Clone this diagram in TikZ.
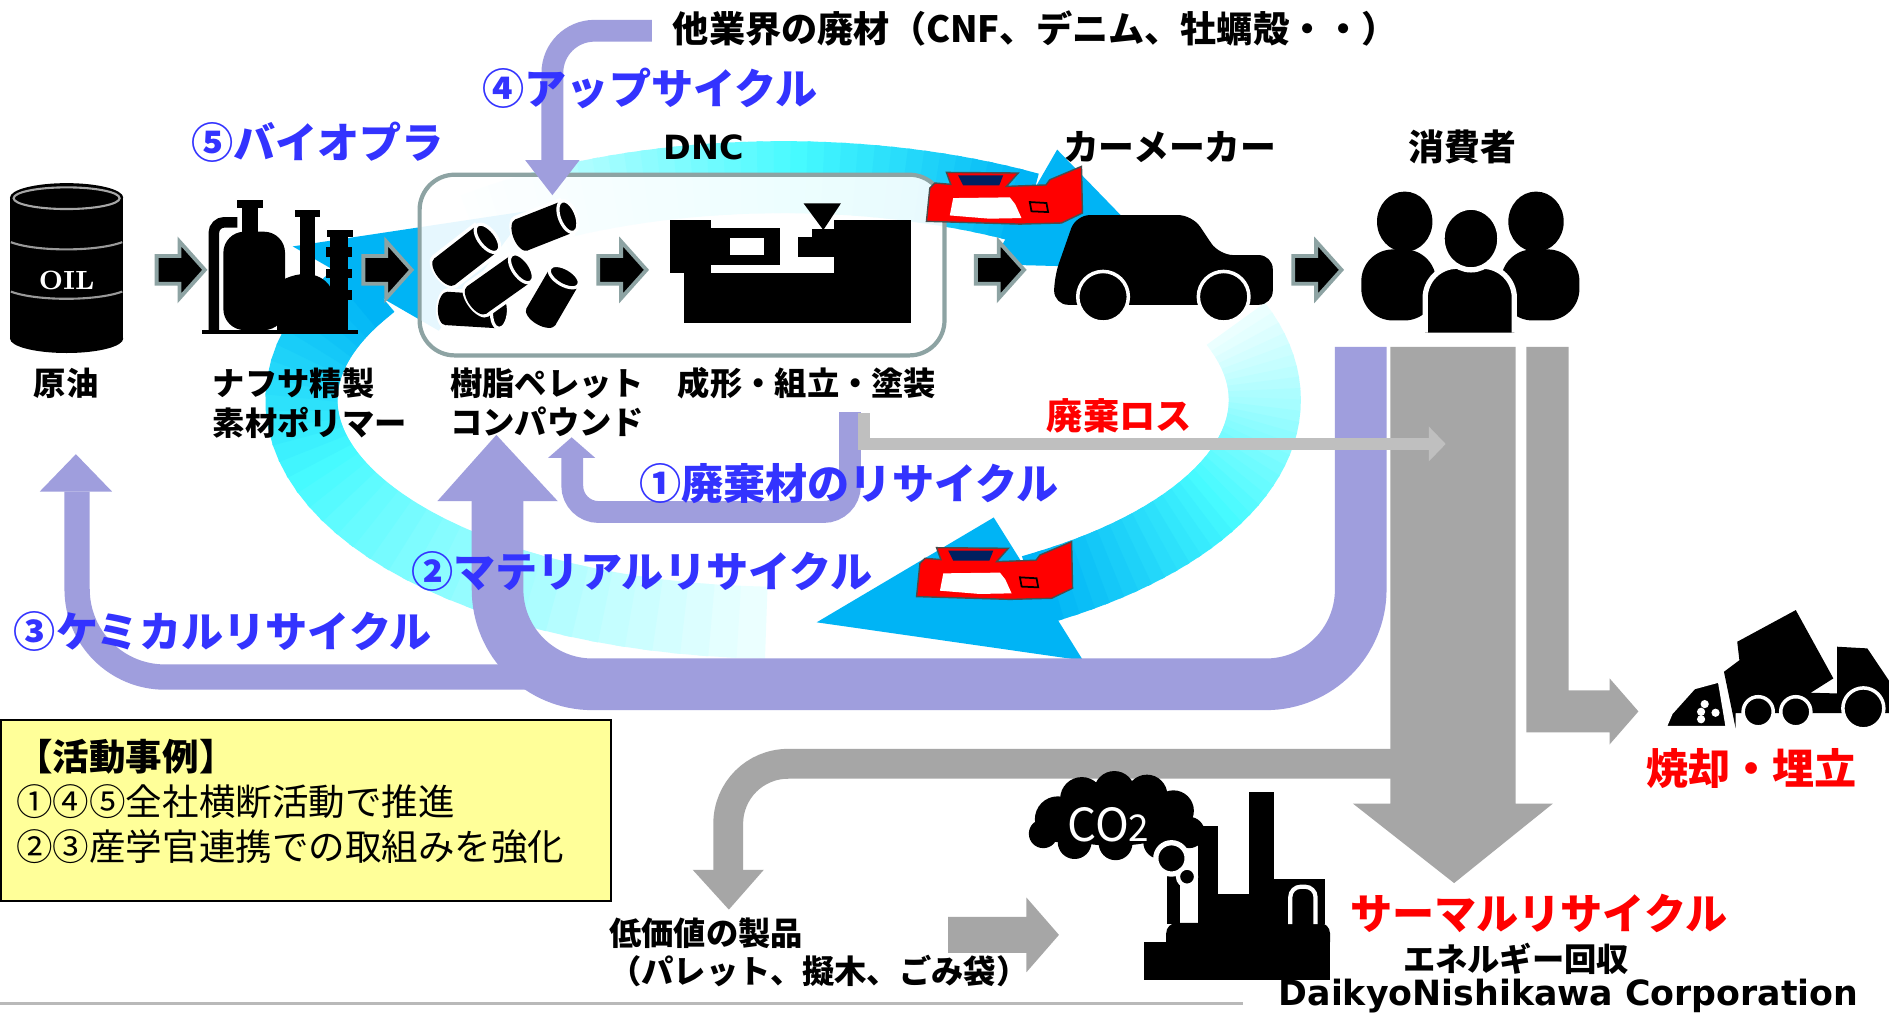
\documentclass[tikz,border=0pt]{standalone}
\usepackage{fontspec}
\newfontfamily\jp{Noto Sans CJK JP}
\newfontfamily\latinsans{DejaVu Sans}

\definecolor{recblue}{RGB}{51,51,255}
\definecolor{loopviolet}{RGB}{159,158,221}
\definecolor{flowgray}{RGB}{166,166,166}
\definecolor{lossgray}{RGB}{191,191,191}
\definecolor{rimgray}{RGB}{141,163,163}
\definecolor{notepad}{RGB}{255,255,153}
\definecolor{ringlight}{RGB}{235,255,255}
\definecolor{ringmid}{RGB}{70,250,255}
\definecolor{ringdeep}{RGB}{0,180,245}
\definecolor{bumpernavy}{RGB}{0,32,96}

\tikzset{
  darklbl/.style={font=\jp\bfseries\fontsize{9.2}{11.3}\selectfont, inner sep=0pt},
  toplbl/.style={font=\jp\bfseries\fontsize{10.2}{12}\selectfont, inner sep=0pt},
  bluelbl/.style={font=\jp\bfseries\fontsize{12}{14}\selectfont, text=recblue, inner sep=0pt},
  redlbl/.style={font=\jp\bfseries\fontsize{12}{14}\selectfont, text=red, inner sep=0pt},
  notetext/.style={font=\jp\fontsize{10.4}{12.8}\selectfont, inner sep=0pt, align=left},
  latinlbl/.style={font=\latinsans\bfseries\fontsize{9.5}{11}\selectfont, inner sep=0pt},
  arrowrim/.style={fill=black, draw=rimgray, line width=1.1pt, line join=miter},
  loopband/.style={draw=loopviolet},
  flowband/.style={draw=flowgray}
}

\begin{document}
\begin{tikzpicture}[x=0.012047cm, y=-0.012047cm]
	\useasboundingbox (0,0) rectangle (1568,843);
	\fill[white] (0,0) rectangle (1568,843);

	% Draw the swirl: three arcs fading in towards their heads
	\foreach \tail/\base/\tip/\hw in {130/60/36/55, 20/-58/-86/70, 268/150/122/70} {
		\foreach \i in {0,...,35} {
			\pgfmathsetmacro{\ta}{\tail+(\base-\tail)*\i/36}
			\pgfmathsetmacro{\tb}{\tail+(\base-\tail)*(\i+1.4)/36}
			\pgfmathtruncatemacro{\pa}{min(100,\i*100/21)}
			\pgfmathtruncatemacro{\pb}{max(0,(\i-21)*100/14)}
			\colorlet{swirlbase}{ringmid!\pa!ringlight}
			\colorlet{swirl}{ringdeep!\pb!swirlbase}
			\draw[swirl, line width=20.5pt] ({650+400*cos(\ta)},{332-185*sin(\ta)}) -- ({650+400*cos(\tb)},{332-185*sin(\tb)});
		}
		\fill[ringdeep] ({650+(400-\hw)*cos(\base)},{332-(185-\hw)*sin(\base)}) -- ({650+(400+\hw)*cos(\base)},{332-(185+\hw)*sin(\base)}) -- ({650+400*cos(\tip)},{332-185*sin(\tip)}) -- cycle;
	}

	% Draw DNC box
	\draw[rimgray, line width=1.2pt, fill=white, fill opacity=0.9, rounded corners=10pt] (348.3,145) rectangle (784,295);

	% Draw recycling loops
	\draw[loopband, line width=7.2pt, rounded corners=25pt] (500,562) -- (64,562) -- (64,408);
	\fill[loopviolet] (33,408) -- (93,408) -- (63,377) -- cycle;
	\draw[loopband, line width=14.7pt, rounded corners=27pt] (1129.5,288) -- (1129.5,568) -- (413,568) -- (413,416);
	\fill[loopviolet] (363,416) -- (463,416) -- (412,361) -- cycle;
	\draw[loopband, line width=6.2pt, rounded corners=7.5pt] (705.5,342) -- (705.5,425) -- (475,425) -- (475,380);
	\fill[loopviolet] (455,380) -- (494,380) -- (474.5,363) -- cycle;
	\draw[loopband, line width=6.2pt, rounded corners=12pt] (541,25.5) -- (458.5,25.5) -- (458.5,134);
	\fill[loopviolet] (436,133) -- (481,133) -- (458.5,162) -- cycle;

	% Draw disposal flows
	\fill[flowgray] (1154,288) -- (1258,288) -- (1258,667) -- (1289,667) -- (1207,733) -- (1123,667) -- (1154,667) -- cycle;
	\fill[flowgray] (1267,288) -- (1302,288) -- (1302,573) -- (1336,573) -- (1336,563) -- (1360,590.5) -- (1336,618) -- (1336,608) -- (1267,608) -- cycle;
	\draw[flowband, line width=8.5pt, rounded corners=17pt] (1160,634) -- (604.5,634) -- (604.5,723);
	\fill[flowgray] (575,722) -- (634,722) -- (605,755) -- cycle;
	\fill[flowgray] (787,761) -- (852,761) -- (852,745) -- (879,776) -- (852,807) -- (852,791) -- (787,791) -- cycle;
	\draw[lossgray, line width=3.4pt, line join=miter] (717.5,343) -- (717.5,368.5) -- (1187,368.5);
	\fill[lossgray] (1186,354) -- (1200,368.5) -- (1186,383) -- cycle;

	% Draw step arrows
	\foreach \x in {130,301.6,496.6,810,1073.5}
	\filldraw[arrowrim] (\x,212.5) -- (\x+19,212.5) -- (\x+19,200.5) -- (\x+40,224) -- (\x+19,247.5) -- (\x+19,235.5) -- (\x,235.5) -- cycle;

	% Oil drum
	\fill (8.3,164) rectangle (102.4,281);
	\fill (55.3,164) ellipse (47 and 12);
	\fill (55.3,281) ellipse (47 and 12);
	\draw[gray!70, line width=0.6pt] (55.3,164.5) ellipse (44 and 9);
	\foreach \y in {201,242}
	\draw[gray!80, line width=0.6pt] (9,\y) .. controls (30,\y+8) and (80,\y+8) .. (101.5,\y);
	\node[text=white, font=\rmfamily\bfseries\fontsize{7.5}{8}\selectfont, inner sep=0pt] (oilmark) at (55.3,233) {OIL};

	% Refinery
	\fill (167.4,273.9) rectangle (297.4,277.2);
	\draw[line width=3pt, rounded corners=3pt] (177.5,274) -- (177.5,184.5) -- (197,184.5);
	\fill[rounded corners=6pt] (185.4,274) -- (185.4,192.3) -- (236.6,192.3) -- (236.6,274) -- cycle;
	\fill (200.6,172.9) rectangle (214.4,193);
	\fill (196.5,166) rectangle (218.6,172.9);
	\fill (230,274) -- (230,235) .. controls (250,222) and (272,226) .. (277,245) -- (277,274) -- cycle;
	\fill (244.9,174.3) rectangle (265.6,179.8);
	\fill (249,179.8) rectangle (261.5,274);
	\fill (271.2,190.9) rectangle (293.3,196.4);
	\fill (273.9,196.4) rectangle (289.1,274);
	\foreach \y in {205,223,241}
	\fill (271,\y) rectangle (292,\y+8);

	% Resin pellets
	\foreach \ax/\ay/\bx/\by in {370.5/256/415/258.7, 395.7/249/432.8/222.7, 369/225.5/404.6/197.8, 432.8/195/471.4/179.8, 449/262.9/468.4/229.6} {
		\pgfmathsetmacro{\ang}{atan2(\ay-\by,\bx-\ax)}
		\draw[white, line width=11.5pt] (\ax,\ay) -- (\bx,\by);
		\fill[white, rotate around={\ang:(\ax,\ay)}] (\ax,\ay) ellipse (8.5 and 16.8);
		\draw[black, line width=9.5pt] (\ax,\ay) -- (\bx,\by);
		\fill[black, rotate around={\ang:(\ax,\ay)}] (\ax,\ay) ellipse (7 and 13.9);
		\draw[white, line width=0.9pt, fill=black, rotate around={\ang:(\bx,\by)}] (\bx,\by) ellipse (7 and 13.9);
	}

	% Injection moulding machine
	\fill (555.9,182.6) rectangle (590,226.9);
	\fill (590,189.5) rectangle (647.8,220);
	\fill[white] (606,197.8) rectangle (634.4,211.7);
	\fill (567.7,226.9) rectangle (756,268.4);
	\fill (692,182.6) rectangle (756,268.4);
	\fill (662.6,197) rectangle (692,213);
	\fill (674,190) rectangle (692,197);
	\fill (667,168.8) -- (698,168.8) -- (683.4,190.9) -- cycle;

	% Car
	\fill[rounded corners=4pt] (875,253) -- (875,230) -- (893,178.5) -- (989.7,178.5) -- (1012,211.7) -- (1056.5,211.7) -- (1056.5,253) -- cycle;
	\foreach \x in {915.6,1015.7}
	\draw[white, line width=1pt, fill=black] (\x,246.3) circle (21);

	% Consumers
	\fill[rounded corners=9pt] (1130,266) -- (1130,207) -- (1192,207) -- (1192,266) -- cycle;
	\fill (1166,184) ellipse (23 and 25);
	\fill[rounded corners=9pt] (1246,266) -- (1246,207) -- (1311,207) -- (1311,266) -- cycle;
	\fill (1275,184) ellipse (23 and 25);
	\draw[white, line width=1.5pt, fill=black, rounded corners=9pt] (1183,276) -- (1183,221) -- (1257,221) -- (1257,276);
	\draw[white, line width=1.5pt, fill=black] (1221,198) ellipse (24 and 26);

	% Bumpers
	\foreach \dx/\dy in {0/0, 8.2/-311.5} {
		\begin{scope}[shift={(\dx,\dy)}]
			\filldraw[fill=red, draw=black!70, line width=0.4pt] (760.8,495.2) -- (763.6,467.6) -- (767.8,463.4) -- (781,464.5) -- (777.4,454.6) -- (837,455.1) -- (827.2,466.2) -- (860,465) -- (863.2,460.7) -- (889.5,449.6) -- (890.3,488.3) -- (872.9,496.6) -- (838.3,497.5) -- cycle;
			\fill[bumpernavy] (787.1,457) -- (824.5,457) -- (821.2,465.4) -- (791.3,465.4) -- cycle;
			\fill[white] (783,475.9) -- (830,475.3) -- (834.5,481) -- (839.7,492.5) -- (813,493) -- (780.2,490.3) -- cycle;
			\draw[line width=0.5pt] (846.6,479.2) -- (860.4,480) -- (861.8,487.5) -- (848,486.9) -- cycle;
		\end{scope}
	}

	% Dump truck
	\fill (1431,557.6) -- (1443.8,548) -- (1442,532.7) -- (1490.6,506.4) -- (1521.8,563.1) -- (1503,575) -- (1525,575.6) -- (1525,536.8) -- (1550,538.2) -- (1568,565) -- (1568,592) -- (1440.7,592) -- (1440.7,604.6) -- cycle;
	\filldraw[draw=white, line width=0.5pt] (1383,603.2) -- (1387.7,592.2) -- (1406.4,571.4) -- (1426.7,565.9) -- (1433,603.2) -- cycle;
	\foreach \x/\y in {1412/590.8, 1415/584.4, 1424/591.6, 1412/597}
	\fill[white] (\x,\y) circle (3.4);
	\foreach \x/\y/\r in {1459.4/590.8/12.5, 1490.6/590.8/12.5, 1546.7/588/17}
	\draw[white, line width=1pt, fill=black] (\x,\y) circle (\r);

	% Incineration plant with CO2 cloud
	\foreach \x/\y/\r in {878/680/19, 898/663/18, 925/657/17, 952/660/17, 974/673/17, 987/691/13, 963/699/14, 926/700/14, 892/699/14, 866/692/12}
	\fill (\x,\y) circle (\r);
	\fill (925,681) ellipse (57 and 21);
	\node[text=white, font=\jp\fontsize{13}{14}\selectfont, inner sep=0pt] (co2) at (920,685) {CO{\fontsize{10.5}{11}\selectfont 2}};
	\fill (950,782) rectangle (1104,813.5);
	\fill[rounded corners=3pt] (968,782) -- (968,766) -- (1104,766) -- (1104,782);
	\fill (968.7,727) rectangle (979.8,767);
	\fill (994.6,686) rectangle (1011.3,767);
	\fill (1011,742) rectangle (1037,767);
	\fill (1037,657) rectangle (1057.6,767);
	\fill (1057.6,730) rectangle (1100,767);
	\draw[white, line width=1.2pt, rounded corners=3pt] (1071,767) -- (1071,736) -- (1092,736) -- (1092,767);
	\draw[white, line width=1.5pt, fill=black] (972.4,712.5) circle (13);
	\draw[white, line width=1.2pt, fill=black] (985.3,727.7) circle (7.5);

	% Labels
	\node[darklbl, font=\jp\bfseries\fontsize{10.3}{12}\selectfont, anchor=west] (otherwaste) at (558,24) {他業界の廃材（CNF、デニム、牡蠣殻・・）};
	\node[bluelbl, anchor=west] (upcycle) at (400,73) {④アップサイクル};
	\node[bluelbl, anchor=west] (bioplastic) at (158,118) {⑤バイオプラ};
	\node[latinlbl] (dnc) at (584,122) {DNC};
	\node[toplbl] (carmaker) at (971,122) {カーメーカー};
	\node[toplbl] (consumer) at (1214,122) {消費者};
	\node[darklbl] (crude) at (55,318) {原油};
	\node[darklbl, anchor=west, align=left] (naphtha) at (176,334.5) {ナフサ精製\\素材ポリマー};
	\node[darklbl, anchor=west, align=left] (pellet) at (373,334) {樹脂ペレット\\コンパウンド};
	\node[darklbl, anchor=west] (molding) at (562,318) {成形・組立・塗装};
	\node[redlbl, font=\jp\bfseries\fontsize{10.3}{12}\selectfont] (loss) at (929,345) {廃棄ロス};
	\node[bluelbl, anchor=west] (wasteloop) at (530,401) {①廃棄材のリサイクル};
	\node[bluelbl, anchor=west] (materialloop) at (341,474) {②マテリアルリサイクル};
	\node[bluelbl, anchor=west] (chemicalloop) at (11,524) {③ケミカルリサイクル};
	\node[redlbl, anchor=west] (landfill) at (1366,638) {焼却・埋立};
	\node[redlbl, anchor=west] (thermal) at (1120,758) {サーマルリサイクル};
	\node[darklbl, anchor=west] (energy) at (1164,796) {エネルギー回収};
	\node[darklbl, anchor=west, align=left, font=\jp\bfseries\fontsize{9.2}{10.6}\selectfont] (lowvalue) at (505,790.5) {低価値の製品\\（パレット、擬木、ごみ袋）};
	\node[latinlbl, font=\latinsans\bfseries\fontsize{9.9}{11}\selectfont] (company) at (1302,827) {DaikyoNishikawa Corporation};

	% Activity note
	\draw[fill=notepad, line width=0.6pt] (0.5,597.5) rectangle (507,748);
	\node[notetext, anchor=west] (cases) at (13,665.5) {{\bfseries 【活動事例】}\\①④⑤全社横断活動で推進\\②③産学官連携での取組みを強化};

	% Footer rule
	\draw[gray!55, line width=0.7pt] (0,833) -- (1032,833);
\end{tikzpicture}
\end{document}
